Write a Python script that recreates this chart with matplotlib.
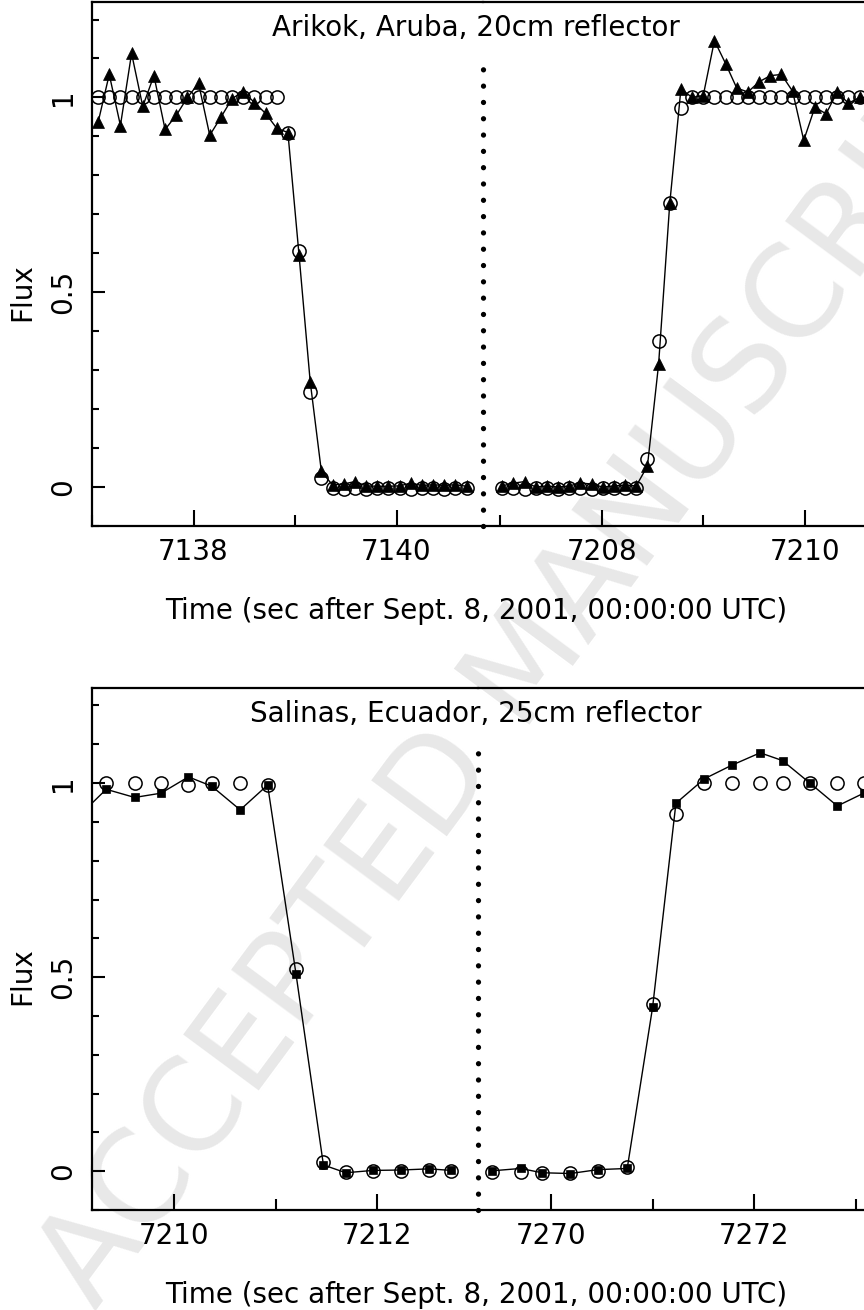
import matplotlib
matplotlib.use("Agg")
import matplotlib.pyplot as plt
from matplotlib.ticker import MultipleLocator, FormatStrFormatter

# figure size in pixels (dpi 100) and horizontal scale of both panels
W, H = 864, 1310
PX_PER_SEC = 101.5

# ---- Arikok, Aruba: ingress (left) and egress (right) ----
aru_t_in = [7137.06, 7137.17, 7137.28, 7137.39, 7137.50, 7137.61, 7137.72, 7137.83,
            7137.94, 7138.05, 7138.16, 7138.27, 7138.38, 7138.49, 7138.60, 7138.71,
            7138.82, 7138.93, 7139.04, 7139.15, 7139.26, 7139.37, 7139.48, 7139.59,
            7139.70, 7139.81, 7139.92, 7140.03, 7140.14, 7140.25, 7140.36, 7140.47,
            7140.58, 7140.69]
aru_model_in = [1.0, 1.0, 1.0, 1.0, 1.0, 1.0, 1.0, 1.0, 1.0, 1.0, 1.0, 1.0, 1.0, 1.0,
                1.0, 1.0, 1.0, 0.910, 0.605, 0.245, 0.022, -0.003, -0.004, -0.002,
                -0.004, -0.003, -0.003, -0.002, -0.004, -0.003, -0.003, -0.004,
                -0.003, -0.003]
aru_flux_in = [0.936, 1.059, 0.928, 1.113, 0.977, 1.056, 0.918, 0.954, 1.000, 1.036,
               0.903, 0.949, 0.997, 1.015, 0.987, 0.959, 0.921, 0.910, 0.595, 0.270,
               0.040, 0.005, 0.008, 0.014, 0.003, 0.002, 0.002, 0.003, 0.010, 0.004,
               0.006, 0.004, 0.006, 0.002]

aru_t_out = [7207.02, 7207.13, 7207.24, 7207.35, 7207.46, 7207.57, 7207.68, 7207.79,
             7207.90, 7208.01, 7208.12, 7208.23, 7208.34, 7208.45, 7208.56, 7208.67,
             7208.78, 7208.89, 7209.00, 7209.11, 7209.22, 7209.33, 7209.44, 7209.55,
             7209.66, 7209.77, 7209.88, 7209.99, 7210.10, 7210.21, 7210.32, 7210.43,
             7210.54, 7210.65]
aru_model_out = [-0.003, -0.003, -0.004, -0.003, -0.003, -0.004, -0.003, -0.003,
                 -0.004, -0.003, -0.003, -0.003, -0.003, 0.072, 0.374, 0.728, 0.974,
                 1.0, 1.0, 1.0, 1.0, 1.0, 1.0, 1.0, 1.0, 1.0, 1.0, 1.0, 1.0, 1.0,
                 1.0, 1.0, 1.0, 1.0]
aru_flux_out = [0.003, 0.010, 0.014, 0.000, 0.003, 0.000, 0.003, 0.010, 0.008, 0.000,
                0.003, 0.005, 0.003, 0.054, 0.315, 0.728, 1.022, 1.000, 1.005, 1.146,
                1.087, 1.024, 1.014, 1.040, 1.056, 1.059, 1.016, 0.890, 0.975, 0.958,
                1.014, 0.985, 1.000, 1.000]

# ---- Salinas, Ecuador ----
sal_t_in = [7209.06, 7209.33, 7209.61, 7209.87, 7210.14, 7210.37, 7210.65, 7210.92,
            7211.20, 7211.47, 7211.69, 7211.96, 7212.23, 7212.51, 7212.73]
sal_model_in = [1.0, 1.0, 1.0, 1.0, 0.995, 1.0, 1.0, 0.995, 0.520, 0.024, -0.002,
                0.000, 0.001, 0.004, 0.001]
sal_flux_in = [0.915, 0.984, 0.963, 0.974, 1.016, 0.992, 0.931, 0.995, 0.508, 0.016,
               -0.004, 0.002, 0.003, 0.006, 0.002]

sal_t_out = [7269.42, 7269.70, 7269.91, 7270.19, 7270.46, 7270.75, 7271.00, 7271.23,
             7271.51, 7271.78, 7272.06, 7272.28, 7272.55, 7272.82, 7273.08]
sal_model_out = [-0.002, -0.002, -0.004, -0.004, 0.001, 0.011, 0.430, 0.920, 1.0, 1.0,
                 1.0, 1.0, 1.0, 1.0, 1.0]
sal_flux_out = [0.001, 0.007, -0.004, -0.006, 0.004, 0.007, 0.422, 0.948, 1.011, 1.046,
                1.078, 1.058, 1.000, 0.941, 0.974]

XLABEL = 'Time (sec after Sept. 8, 2001, 00:00:00 UTC)'
FS = 20

plt.rcParams['font.family'] = ['DejaVu Sans']


def px_box(left, right, top, bottom):
    return [left / W, 1 - bottom / H, (right - left) / W, (bottom - top) / H]


def style_axis(ax):
    ax.set_facecolor('none')
    ax.set_ylim(-0.1, 1.245)
    ax.xaxis.set_major_locator(MultipleLocator(2))
    ax.xaxis.set_minor_locator(MultipleLocator(1))
    ax.xaxis.set_major_formatter(FormatStrFormatter('%d'))
    ax.tick_params(axis='x', which='major', direction='in', length=11.5, width=1.5,
                   pad=9, labelsize=FS)
    ax.tick_params(axis='x', which='minor', direction='in', length=8, width=1.5)
    for s in ax.spines.values():
        s.set_linewidth(1.6)
    ax.spines['right'].set_visible(False)


def panel(fig, top, bottom, split, t0_left, t0_right, data_left, data_right,
          marker, ms, title, label_y):
    left, right = 92, 880
    ax1 = fig.add_axes(px_box(left, split, top, bottom))
    ax2 = fig.add_axes(px_box(split, right, top, bottom))
    ax1.set_xlim(t0_left, t0_left + (split - left) / PX_PER_SEC)
    ax2.set_xlim(t0_right, t0_right + (right - split) / PX_PER_SEC)

    for ax, (t, model, flux) in ((ax1, data_left), (ax2, data_right)):
        style_axis(ax)
        ax.plot(t, flux, color='k', lw=1.0, marker=marker, ms=ms, mfc='k', mec='k',
                mew=0.5, zorder=3)
        ax.plot(t, model, ls='none', marker='o', ms=9.5, mfc='none', mec='k',
                mew=1.1, zorder=4)

    # y axis only on the left part
    ax1.set_yticks([0, 0.5, 1])
    ax1.set_yticklabels(['0', '0.5', '1'], rotation=90, va='center')
    ax1.yaxis.set_minor_locator(MultipleLocator(0.1))
    ax1.tick_params(axis='y', which='major', direction='in', length=9, width=1.5,
                    pad=11, labelsize=FS)
    ax1.tick_params(axis='y', which='minor', direction='in', length=5, width=1.5)
    ax2.tick_params(axis='y', which='both', left=False, labelleft=False)
    ax2.spines['left'].set_visible(False)

    # dotted break line between the two time ranges
    xb = ax1.get_xlim()[1]
    ax1.plot([xb, xb], [-0.1, 1.1], color='k', lw=3.8, ls=(0, (0.01, 3.08)),
             dash_capstyle='round', clip_on=False, zorder=5)

    fig.text(476 / W, 1 - (top + 26) / H, title, ha='center', va='center', fontsize=FS)
    fig.text(476 / W, 1 - (bottom + 85) / H, XLABEL, ha='center', va='center',
             fontsize=FS)
    fig.text(22 / W, 1 - label_y / H, 'Flux', rotation=90, ha='center', va='center',
             fontsize=FS)


fig = plt.figure(figsize=(W / 100, H / 100), dpi=100)

panel(fig, 2, 526, 483, 7137.0, 7206.83,
      (aru_t_in, aru_model_in, aru_flux_in),
      (aru_t_out, aru_model_out, aru_flux_out),
      '^', 8.5, 'Arikok, Aruba, 20cm reflector', 292)

panel(fig, 688, 1210, 478, 7209.19, 7269.28,
      (sal_t_in, sal_model_in, sal_flux_in),
      (sal_t_out, sal_model_out, sal_flux_out),
      's', 5.5, 'Salinas, Ecuador, 25cm reflector', 976)

# journal watermark (runs off the top right edge, as in the original)
fig.text(530 / W, 1 - 665 / H, 'ACCEPTED MANUSCRIPT', rotation=53.5, ha='center',
         va='center', rotation_mode='anchor', fontsize=92, color='#e8e8e8', zorder=-1)

fig.savefig('out.png', dpi=100)
